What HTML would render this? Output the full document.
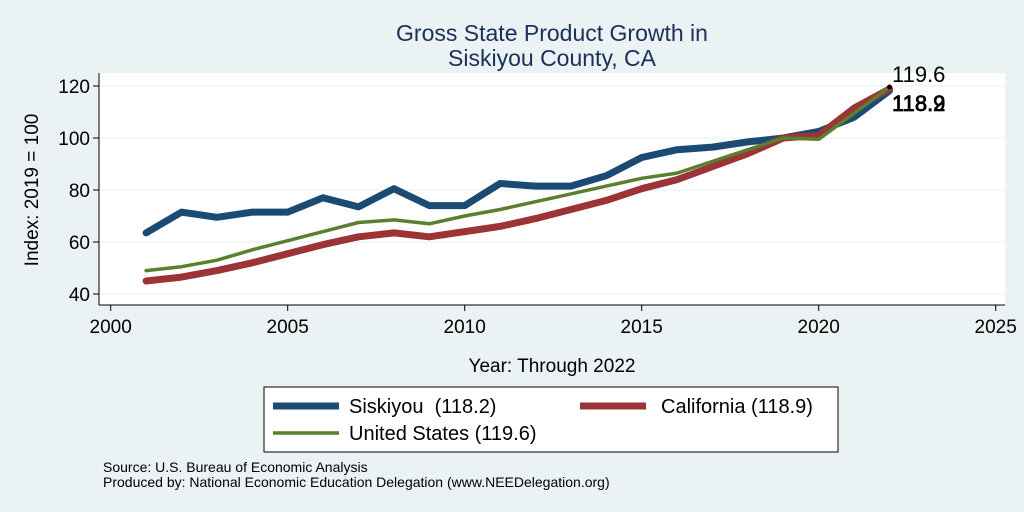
<!DOCTYPE html>
<html><head><style>body{margin:0;background:#eaf2f3;}svg{display:block;font-family:"Liberation Sans",sans-serif;}</style></head>
<body>
<svg width="1024" height="512" viewBox="0 0 1024 512">
<rect width="1024" height="512" fill="#eaf2f3"/>
<text x="552" y="41" text-anchor="middle" font-size="23" fill="#1a2f5a">Gross State Product Growth in</text>
<text x="552" y="66" text-anchor="middle" font-size="23" fill="#1a2f5a">Siskiyou County, CA</text>
<rect x="99" y="73" width="906" height="232" fill="#fff"/>
<g stroke="#eaf2f3" stroke-width="1.2">
<line x1="99" x2="1005" y1="86" y2="86"/><line x1="99" x2="1005" y1="138" y2="138"/><line x1="99" x2="1005" y1="190" y2="190"/><line x1="99" x2="1005" y1="242" y2="242"/><line x1="99" x2="1005" y1="294" y2="294"/>
</g>
<g stroke="#000" stroke-width="1">
<line x1="99" y1="73" x2="99" y2="305"/><line x1="99" y1="305" x2="1005" y2="305"/>
<line x1="93" x2="99" y1="86" y2="86"/><line x1="93" x2="99" y1="138" y2="138"/><line x1="93" x2="99" y1="190" y2="190"/><line x1="93" x2="99" y1="242" y2="242"/><line x1="93" x2="99" y1="294" y2="294"/>
<line x1="110.7" x2="110.7" y1="305" y2="311"/><line x1="287.7" x2="287.7" y1="305" y2="311"/><line x1="464.7" x2="464.7" y1="305" y2="311"/><line x1="641.7" x2="641.7" y1="305" y2="311"/><line x1="818.7" x2="818.7" y1="305" y2="311"/><line x1="995.7" x2="995.7" y1="305" y2="311"/>
</g>
<g font-size="19" text-anchor="end"><text x="90" y="93">120</text><text x="90" y="145">100</text><text x="90" y="197">80</text><text x="90" y="249">60</text><text x="90" y="301">40</text></g>
<g font-size="19" text-anchor="middle"><text x="110.7" y="333">2000</text><text x="287.7" y="333">2005</text><text x="464.7" y="333">2010</text><text x="641.7" y="333">2015</text><text x="818.7" y="333">2020</text><text x="995.7" y="333">2025</text></g>
<text transform="translate(38,190) rotate(-90)" text-anchor="middle" font-size="19">Index: 2019 = 100</text>
<text x="552" y="372" text-anchor="middle" font-size="19">Year: Through 2022</text>
<g fill="none" stroke-linejoin="round" stroke-linecap="round">
<polyline stroke="#1b4a72" stroke-width="7" points="146.1,232.9 181.5,212.1 216.9,217.3 252.3,212.1 287.7,212.1 323.1,197.8 358.5,206.9 393.9,188.7 429.3,205.6 464.7,205.6 500.1,183.5 535.5,186.1 570.9,186.1 606.3,175.7 641.7,157.5 677.1,149.7 712.5,147.1 747.9,141.9 783.3,138 818.7,131.5 854.1,117.2 889.5,90.7"/>
<polyline stroke="#9b3337" stroke-width="7" points="146.1,281 181.5,277.1 216.9,270.6 252.3,262.8 287.7,253.7 323.1,244.6 358.5,236.8 393.9,232.9 429.3,236.8 464.7,231.6 500.1,226.4 535.5,218.6 570.9,209.5 606.3,200.4 641.7,188.7 677.1,179.6 712.5,166.6 747.9,153.6 783.3,138 818.7,135.4 854.1,108.1 889.5,88.9"/>
<polyline stroke="#5a7f2e" stroke-width="3.5" points="146.1,270.6 181.5,266.7 216.9,260.2 252.3,249.8 287.7,240.7 323.1,231.6 358.5,222.5 393.9,219.9 429.3,223.8 464.7,216 500.1,209.5 535.5,201.7 570.9,193.9 606.3,186.1 641.7,178.3 677.1,173.1 712.5,161.4 747.9,149.7 783.3,138 818.7,139.3 854.1,113.3 889.5,87"/>
</g>
<circle cx="889.5" cy="87" r="2.5" fill="#000"/>
<g font-size="22"><text x="892" y="82">119.6</text><text x="892" y="111" stroke="#000" stroke-width="0.6">118.9</text><text x="892" y="111" stroke="#000" stroke-width="0.6">118.2</text></g>
<rect x="264" y="387" width="574" height="65" fill="#fff" stroke="#000" stroke-width="1"/>
<line x1="273" x2="339" y1="406" y2="406" stroke="#1b4a72" stroke-width="7"/>
<text x="349" y="413" font-size="20" xml:space="preserve">Siskiyou  (118.2)</text>
<line x1="580" x2="646" y1="406" y2="406" stroke="#9b3337" stroke-width="7"/>
<text x="661" y="413" font-size="20">California (118.9)</text>
<line x1="273" x2="339" y1="433" y2="433" stroke="#5a7f2e" stroke-width="3.5"/>
<text x="349" y="440" font-size="20">United States (119.6)</text>
<text x="103" y="472" font-size="14">Source: U.S. Bureau of Economic Analysis</text>
<text x="103" y="487" font-size="14">Produced by: National Economic Education Delegation (www.NEEDelegation.org)</text>
</svg>
</body></html>
